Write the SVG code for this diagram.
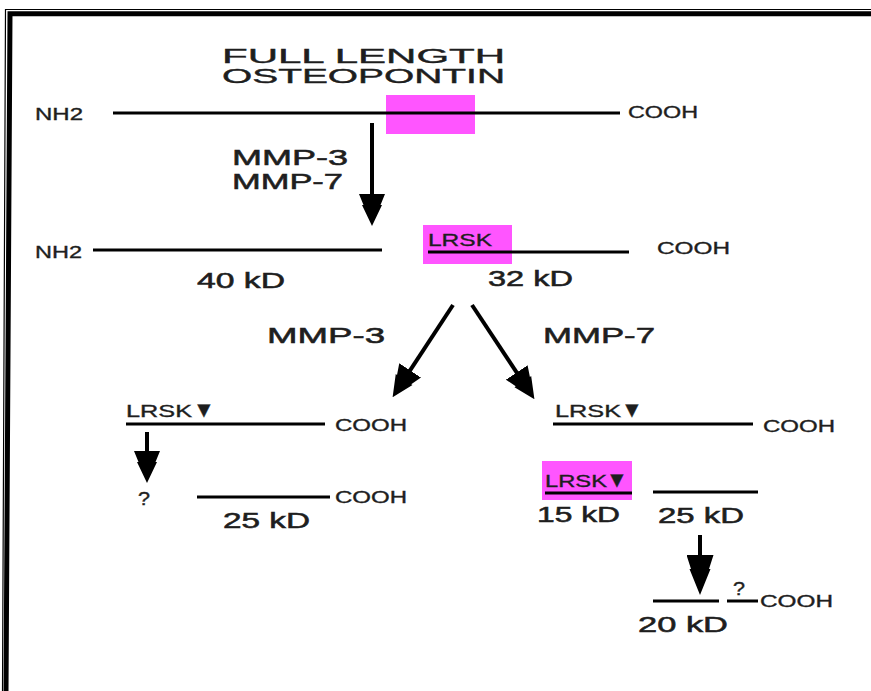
<svg xmlns="http://www.w3.org/2000/svg" width="871" height="691" viewBox="0 0 871 691">
<style>
  text { font-family: "Liberation Sans", Arial, sans-serif; fill: #1e1e1e; stroke: #1e1e1e; stroke-width: 0.35; }
  .title { font-size: 20px; stroke-width: 0.4; }
  .enz { font-size: 22px; stroke-width: 0.55; }
  .kd { font-size: 22px; stroke-width: 0.55; }
  .term { font-size: 17px; }
  .lrsk { font-size: 17px; }
  .tri { font-size: 22px; }
  .q { font-size: 18px; }
  .chain { stroke: #000; stroke-width: 3; fill: none; }
  .pink { fill: #ff55ff; }
  .arrow { stroke: #000; stroke-width: 4; fill: none; }
  .frame { stroke: #000; fill: none; }
</style>
<defs>
  <marker id="ah" markerUnits="userSpaceOnUse" viewBox="0 0 32 26" markerWidth="32" markerHeight="26" refX="1" refY="13" orient="auto">
    <path d="M0,0 L11,4.5 L11,3 L32,13 L11,23 L11,21.5 L0,26 z" fill="#000"/>
  </marker>
  <marker id="ahLong" markerUnits="userSpaceOnUse" viewBox="0 0 40 27" markerWidth="40" markerHeight="27" refX="1" refY="13.5" orient="auto">
    <path d="M0,0 L14,4.5 L14,3 L40,13.5 L14,24 L14,22.5 L0,27 z" fill="#000"/>
  </marker>
</defs>
<rect width="871" height="691" fill="#fff"/>
<g id="frame">
  <path class="frame" stroke-width="1.2" d="M2.5,691 L5.5,9.5 H871"/>
  <path class="frame" stroke-width="5" d="M6,691 L10,13.8 H871"/>
</g>
<g id="title">
  <text class="title" x="222" y="63" textLength="283" lengthAdjust="spacingAndGlyphs">FULL LENGTH</text>
  <text class="title" x="222" y="83" textLength="283" lengthAdjust="spacingAndGlyphs">OSTEOPONTIN</text>
</g>
<g id="full-length">
  <rect class="pink" x="386" y="95" width="89" height="39"/>
  <line class="chain" x1="113" y1="113" x2="620" y2="113"/>
  <text class="term" x="35" y="120" textLength="48" lengthAdjust="spacingAndGlyphs">NH2</text>
  <text class="term" x="628" y="118" textLength="70" lengthAdjust="spacingAndGlyphs">COOH</text>
</g>
<g id="label-mmp37">
  <text class="enz" x="232" y="165" textLength="116" lengthAdjust="spacingAndGlyphs">MMP-3</text>
  <text class="enz" x="232" y="189" textLength="111" lengthAdjust="spacingAndGlyphs">MMP-7</text>
</g>
<g id="frag-40kd">
  <line class="chain" x1="93" y1="250" x2="382" y2="250"/>
  <text class="term" x="35" y="258" textLength="47" lengthAdjust="spacingAndGlyphs">NH2</text>
  <text class="kd" x="197" y="288" textLength="88" lengthAdjust="spacingAndGlyphs">40 kD</text>
</g>
<g id="frag-32kd">
  <rect class="pink" x="423" y="225" width="89" height="39"/>
  <text class="lrsk" x="428" y="246" textLength="64" lengthAdjust="spacingAndGlyphs">LRSK</text>
  <line class="chain" x1="428" y1="252" x2="629" y2="252"/>
  <text class="term" x="657" y="254" textLength="73" lengthAdjust="spacingAndGlyphs">COOH</text>
  <text class="kd" x="488" y="286" textLength="85" lengthAdjust="spacingAndGlyphs">32 kD</text>
</g>
<g id="label-mmp3">
  <text class="enz" x="267" y="343" textLength="118" lengthAdjust="spacingAndGlyphs">MMP-3</text>
</g>
<g id="label-mmp7">
  <text class="enz" x="543" y="343" textLength="112" lengthAdjust="spacingAndGlyphs">MMP-7</text>
</g>
<g id="mmp3-product">
  <text class="lrsk" x="126" y="417"><tspan textLength="66" lengthAdjust="spacingAndGlyphs">LRSK</tspan><tspan class="tri" x="193">▼</tspan></text>
  <line class="chain" x1="126" y1="424" x2="325" y2="424"/>
  <text class="term" x="335" y="431" textLength="72" lengthAdjust="spacingAndGlyphs">COOH</text>
</g>
<g id="mmp3-25kd">
  <text class="q" x="138" y="505" textLength="12" lengthAdjust="spacingAndGlyphs">?</text>
  <line class="chain" x1="197" y1="497" x2="330" y2="497"/>
  <text class="term" x="335" y="503" textLength="72" lengthAdjust="spacingAndGlyphs">COOH</text>
  <text class="kd" x="223" y="528" textLength="87" lengthAdjust="spacingAndGlyphs">25 kD</text>
</g>
<g id="mmp7-product">
  <text class="lrsk" x="555" y="417"><tspan textLength="66" lengthAdjust="spacingAndGlyphs">LRSK</tspan><tspan class="tri" x="621">▼</tspan></text>
  <line class="chain" x1="553" y1="424" x2="753" y2="424"/>
  <text class="term" x="763" y="432" textLength="72" lengthAdjust="spacingAndGlyphs">COOH</text>
</g>
<g id="mmp7-15kd">
  <rect class="pink" x="542" y="461" width="90" height="39"/>
  <text class="lrsk" x="545" y="487"><tspan textLength="62" lengthAdjust="spacingAndGlyphs">LRSK</tspan><tspan class="tri" x="606">▼</tspan></text>
  <line class="chain" x1="545" y1="493" x2="632" y2="493" stroke-width="4"/>
  <text class="kd" x="537" y="522" textLength="83" lengthAdjust="spacingAndGlyphs">15 kD</text>
</g>
<g id="mmp7-25kd">
  <line class="chain" x1="653" y1="492" x2="758" y2="492"/>
  <text class="kd" x="658" y="523" textLength="86" lengthAdjust="spacingAndGlyphs">25 kD</text>
</g>
<g id="frag-20kd">
  <line class="chain" x1="653" y1="601" x2="719" y2="601"/>
  <text class="q" x="733" y="595" textLength="12" lengthAdjust="spacingAndGlyphs">?</text>
  <line class="chain" x1="727" y1="601" x2="758" y2="601"/>
  <text class="term" x="760" y="607" textLength="73" lengthAdjust="spacingAndGlyphs">COOH</text>
  <text class="kd" x="638" y="632" textLength="90" lengthAdjust="spacingAndGlyphs">20 kD</text>
</g>
<g id="connectors">
  <line class="arrow" x1="372" y1="123" x2="372" y2="195" marker-end="url(#ah)"/>
  <line class="arrow" x1="453" y1="305" x2="409.6" y2="371.2" marker-end="url(#ah)"/>
  <line class="arrow" x1="472" y1="305" x2="517.3" y2="373.3" marker-end="url(#ah)"/>
  <line class="arrow" x1="147" y1="432" x2="147" y2="452" marker-end="url(#ah)"/>
  <line class="arrow" x1="700" y1="535" x2="700" y2="556" marker-end="url(#ahLong)"/>
</g>
</svg>
